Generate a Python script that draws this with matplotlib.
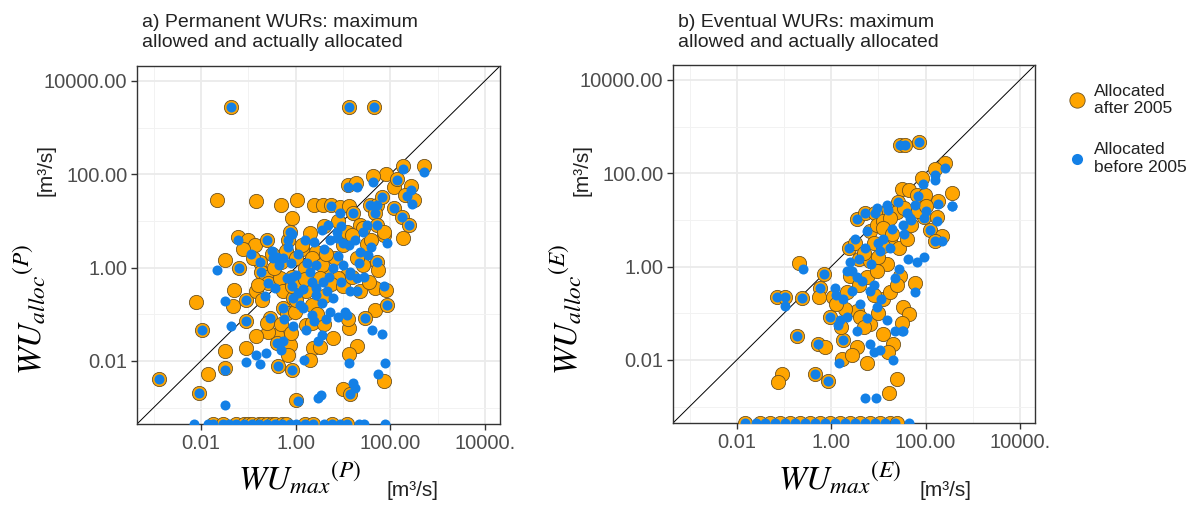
import numpy as np
import matplotlib.pyplot as plt
from matplotlib.lines import Line2D

plt.rcParams['font.family'] = ['Liberation Sans', 'DejaVu Sans']
plt.rcParams['mathtext.fontset'] = 'stix'

# values, stored as log10 of m3/s
# a) permanent WURs
perm_after_x = [-1.36, 1.14, 1.66, 2.26, 2.71, 1.92, 1.63, 1.10, 1.28, 2.08, 2.14, 2.45, 2.32, 2.50,
                -1.66, -0.84, -0.30, 0.04, -0.08, 0.40, 0.57, 0.74, 0.93, 1.13, 1.21, 1.58, 1.72, 1.68,
                1.82, 2.07, 2.25, 2.39, 2.27, 1.86, 1.72, 1.75, 1.68, 1.92, 1.68, 1.93, 1.47, 1.29,
                1.13, 1.13, 1.01, 1.15, 1.87, 1.36, 1.08, 1.43, 1.01, 1.36, 1.43, 1.72, 1.86, 1.08,
                0.83, 0.73, 0.90, 0.44, 0.13, 0.34, 0.55, 0.51, 0.23, 0.34, 0.23, 0.34, 0.37, 0.51,
                0.30, 0.02, -0.08, -0.12, -0.15, -0.37, -0.40, -0.40, -0.58, -0.54, -0.60, -0.83,
                -1.04, -1.04, -1.29, -1.32, -1.04, -1.50, -1.19, -2.10, -1.97, -1.50, -1.50, -1.85,
                -2.04, -2.88, -1.22, -1.00, -0.86, -0.60, -0.15, -0.12, 0.13, -0.76, -0.72, -0.62,
                -0.58, -0.83, -0.79, -0.30, -0.33, -0.26, -0.26, -0.19, -0.05, -0.01, -0.08, -0.07,
                -0.50, -0.45, -0.20, 0.00, 0.20, 0.10, 0.60, 0.75, 1.00, 1.20, 1.30, 1.50, 1.60, 0.90,
                0.60, 0.30, -0.30, -0.10, 0.60, 0.80, 1.10, 0.45, -0.70, -0.90, -1.10, 0.00, 0.20,
                1.55, 1.20, 0.65]
perm_after_y = [3.44, 3.44, 3.44, 2.18, 2.18, 2.01, 1.96, 1.78, 1.82, 1.73, 1.90, 1.74, 1.55, 1.44,
                1.44, 1.43, 1.34, 1.44, 1.07, 1.34, 1.35, 1.34, 1.30, 1.32, 1.16, 1.34, 1.34, 1.16,
                1.52, 1.27, 1.09, 0.91, 0.63, 0.70, 0.13, -0.05, -0.44, -0.48, -0.90, -0.80, -1.08,
                -1.67, -1.86, -1.30, -2.60, -2.70, -2.43, -0.51, -0.16, 0.06, 0.48, 0.91, 0.84, 0.91,
                0.77, 0.77, 0.20, -0.16, -0.23, 0.34, 0.41, 0.20, 0.06, -0.23, -0.51, -0.80, -1.22,
                -1.18, -1.72, -1.69, -1.97, -2.83, -2.19, -1.66, -1.87, -2.11, -1.44, -1.62, -1.37,
                -1.08, -1.19, -1.47, -1.72, -1.15, -0.48, -0.83, -0.69, 0.16, -0.01, -0.73, -1.33,
                -1.79, -2.15, -2.28, -2.68, -2.38, 0.66, 0.59, 0.48, 0.59, 0.59, 0.77, 0.48, 0.13,
                -0.09, -0.19, -0.33, -0.51, -0.37, 0.13, -0.23, -0.51, -0.87, -0.98, -0.65, -0.94,
                -0.40, -0.19,
                0.30, 0.00, 0.35, 0.20, 0.00, -0.30, -0.60, -0.35, -0.40, -0.20, 0.20, 0.50, 0.60, 1.00,
                0.90, 0.75, -1.20, -1.40, -1.20, -1.50, -1.10, -1.00, -0.70, 0.20, 0.40, -0.70, -0.25,
                -0.30, 0.70, 0.30]
perm_before_x = [-1.36, 1.14, 1.66, 2.27, 2.71, 1.63, 1.10, 1.29, 2.14, 2.45, 2.35, 2.47, 0.74, 0.94,
                 1.21, 1.58, 1.72, 1.68, 1.82, 2.07, 2.25, 2.39, 1.93, 1.72, 1.86, 1.93, 1.47, 1.13,
                 1.15, 1.72, 0.06, -0.08, -0.37, -0.40, -0.54, -1.04, -1.04, -1.19, -1.97, -1.49,
                 -2.04, -2.88, -1.22, -0.60, -0.15, -0.12, -0.76, -0.72, -0.58, -0.26, -0.05, -0.08,
                 -0.07,
                 -1.66, -1.49, -1.36, -1.04, -0.84, -0.76, -0.63, -1.49, 0.18, 0.48, 0.53, 1.22, 1.26,
                 1.61, 1.82, 1.89, 1.75, 0.55, 0.48, 0.23, -0.26, -0.30, 0.16, 0.34, 0.73, 0.90, 1.08,
                 0.44, 0.66, 0.80, 0.30, 0.44, 0.80, 1.01, 1.15, 1.29, 0.73, 0.87, 1.01, 1.12, 0.69,
                 0.87, 1.36, 1.54, 1.43, 1.50, -0.07, -0.47, -0.40, -0.26, -0.44, -0.19, 0.02, 0.09,
                 0.59, 0.44, 1.29, 1.15,
                 -0.50, -0.35, -0.15, 0.05, 0.25, 0.15, 0.55, 0.70, 0.95, 1.15, 1.35, 1.60, 0.95, 0.55,
                 0.20, -0.25, -0.05, 0.65, 1.05, 0.40, -0.65, -0.95, 0.05, 0.35, 1.45, 1.25, 0.60,
                 0.90, -0.10, 0.40]
perm_before_y = [3.44, 3.44, 3.44, 2.11, 2.05, 1.83, 1.73, 1.73, 1.87, 1.66, 1.54, 1.37, 1.33, 1.16,
                 1.16, 1.34, 1.34, 1.16, 1.52, 1.27, 1.09, 0.91, 0.52, 0.13, -0.40, -0.80, -1.08,
                 -2.04, -2.70, 0.91, -2.85, -2.19, -2.11, -1.62, -1.08, -1.15, -0.69, -0.01, -1.33,
                 -2.20, -2.68, -2.38, 0.59, 0.59, 0.59, 0.77, 0.13, -0.09, -0.33, -0.87, -0.65, -0.40,
                 -0.19,
                 -0.05, -0.71, -1.26, -2.02, -1.88, -2.06, -1.83, -2.95, -1.97, -2.79, -2.72, -2.47,
                 -2.58, -1.33, -1.42, -2.04, -2.28, -1.44, -1.58, -1.33, -1.58, -1.76, -0.87, -1.01,
                 -0.94, -1.05, -1.01, -0.44, -0.51, -0.65, -0.09, 0.06, -0.01, 0.06, -0.09, -0.23,
                 0.59, 0.63, 0.52, 0.48, 0.91, 0.77, 0.34, 0.27, 0.77, 0.91, 0.73, 0.20, 0.23, 0.20,
                 -0.44, -0.23, -0.16, -0.80, -0.30, -0.58, -0.51, -0.51,
                 0.35, 0.05, 0.45, 0.30, 0.10, -0.45, -0.75, -0.20, -0.30, -0.15, 0.10, 0.45, 0.90,
                 0.80, 0.60, -1.10, -1.25, -1.10, -0.95, -1.15, -0.60, 0.30, -0.55, -0.30, -0.20,
                 0.60, 0.40, 0.25, 0.10, 0.55]
# rights with nothing allocated (value 0), shown on the bottom edge
perm_after_zero_x = [-1.74, -1.53, -1.25, -1.08, -1.00, -0.92, -0.77, -0.70, -0.60, -0.50, -0.43,
                     -0.28, -0.20, 0.20, 0.37, 0.78, 1.09]
perm_before_zero_x = [-2.14, -1.85, -1.74, -1.53, -1.40, -1.25, -1.08, -0.92, -0.77, -0.60, -0.43,
                      -0.28, -0.11, 0.01, 0.20, 0.37, 0.61, 0.78, 0.94, 1.09, 1.35, 1.45, 1.88]

# b) eventual WURs
evt_after_x = [1.45, 1.57, 1.87, 2.42, 2.20, 1.93, 2.56, 2.27, 1.50, 1.66, 1.81, 1.99, 1.41, 1.21,
               1.39, 1.96, 2.25, 2.10, 2.34, 2.20, 0.54, 0.71, 0.93, 0.83, 0.97, 1.11, 1.25, 1.11,
               0.37, 0.60, 0.90, 1.25, 1.43, 0.83, 1.18, -0.67, -0.16, -0.23, -0.25, 0.05, 0.33,
               -1.15, -0.97, -0.62, -0.73, -0.27, -0.13, 0.26, 0.54, 0.76, 0.23, 0.44, -1.05, -1.12,
               -0.34, -0.06, 1.11, 1.32, 1.21, 1.39, 1.23, 1.53, 1.64, 1.78, 1.46, 1.11, 1.25, 0.54,
               0.61, -0.02, 0.83, 0.76, 0.97,
               0.50, 0.70, 1.00, 1.30, 1.60, 1.70, 1.85, 0.40, 0.60, 0.90, 1.00, 0.70, 0.30, 0.10,
               1.40, 1.50, 0.20, 1.10, 1.55, 2.00]
evt_after_y = [2.61, 2.61, 2.67, 2.23, 2.10, 1.89, 1.57, 1.41, 1.66, 1.64, 1.54, 1.54, 1.38, 1.22,
               1.17, 1.07, 1.07, 0.79, 0.65, 0.55, 1.01, 1.15, 1.15, 0.76, 0.90, 0.97, 1.04, 0.83,
               0.39, 0.17, 0.51, 0.58, 0.40, 0.12, 0.05, 0.08, -0.16, -0.45, -0.66, -0.66, -0.55,
               -0.66, -0.65, -0.67, -1.49, -1.65, -1.73, -1.58, -1.72, -2.07, -1.97, -1.90, -2.29,
               -2.48, -2.29, -2.44, -1.44, -1.65, -1.82, -2.41, -2.71, -0.87, -1.01, -0.36, -0.20,
               -0.69, -0.55, -0.94, -1.08, -1.08, -1.22, -0.23, -0.09,
               0.50, 0.30, 0.20, 0.70, 0.60, 0.90, 1.20, -0.20, -0.40, -0.60, -1.00, -1.30, -0.90,
               -0.80, -0.40, -1.20, -1.30, 0.45, 1.25, 1.30]
evt_before_x = [1.45, 1.57, 1.87, 2.42, 2.20, 1.95, 2.56, 2.27, 1.85, 1.41, 1.21, 1.96, 2.25, 2.10,
                2.34, 2.20, 0.54, 0.71, 0.93, 0.37, 0.60, -0.60, -0.16, -0.23, 0.08, -1.15, -0.97,
                -0.62, -0.73, -0.27, 0.26, -0.34, -0.06, -0.02,
                0.72, 0.95, 0.16, 0.83, 0.90, 1.04, 1.31, 1.51, 1.78, 1.81, 1.96, 1.62, 1.43, -0.97,
                0.33, 0.54, 0.44, 0.83, 0.97, 1.18, 1.36, 1.53, 0.61, 0.54, 0.19, 0.33, 1.04, 1.25,
                1.53, 1.67, 1.78, 0.97, 1.18, 0.76, 2.56, 2.20,
                0.50, 0.72, 1.00, 1.30, 1.55, 1.70, 0.45, 0.65, 0.90, 1.05, 0.75, 0.25, 0.10, 1.35,
                0.15, 1.10, 1.60, 2.00, 0.85, 0.40]
evt_before_y = [2.61, 2.61, 2.67, 2.12, 1.96, 1.76, 1.29, 1.35, 1.52, 1.38, 1.22, 1.04, 0.97, 0.79,
                0.54, 0.55, 1.01, 1.15, 1.15, 0.39, 0.17, -0.06, -0.16, -0.45, -0.45, -0.66, -0.65,
                -0.67, -1.49, -1.65, -1.58, -2.29, -2.44, -1.08,
                -2.82, -2.82, -2.06, -1.66, -1.83, -1.79, -1.99, -1.37, -0.55, 0.11, 0.21, 0.16,
                -0.04, -0.84, -0.09, -0.23, -0.52, -0.52, -0.87, -1.15, -1.37, -1.37, -0.80, -1.37,
                -1.15, -1.08, 0.33, 0.40, 0.90, 1.04, 1.32, 1.25, 1.32, 0.76, 1.29, 1.85,
                0.60, 0.40, 0.50, 0.80, 0.70, 1.00, -0.10, -0.30, -0.40, -0.70, -1.10, -0.70, -0.60,
                -0.25, -1.25, 0.60, 1.15, 1.20, 0.05, 0.10]
evt_after_zero_x = [-1.82, -1.50, -1.29, -1.08, -0.87, -0.66, -0.44, -0.23, -0.02, 0.19, 0.40, 0.61,
                    0.83, 1.04, 1.25, 1.39]
evt_before_zero_x = [-1.82, -1.60, -1.40, -1.18, -0.97, -0.76, -0.55, -0.34, -0.12, 0.09, 0.30,
                     0.50, 0.72, 0.93, 1.14, 1.35, 1.64]

ticks = [0.01, 1, 100, 10000]
ytick_labels = ['0.01', '1.00', '100.00', '10000.00']
xtick_labels = ['0.01', '1.00', '100.00', '10000.']
minor = [1e-3, 0.1, 10, 1000]
lo, hi = 10 ** -3.35, 10 ** 4.32

orange = '#FFA500'
blue = '#1380E6'
edge = '#6e5220'


def panel(ax, ax_log, ay_log, bx_log, by_log, az_log, bz_log):
    ax.set_xscale('log')
    ax.set_yscale('log')
    ax.set_xlim(lo, hi)
    ax.set_ylim(lo, hi)
    ax.set_axisbelow(True)
    ax.grid(True, which='major', color='#EBEBEB', lw=1.3)
    ax.grid(True, which='minor', color='#F2F2F2', lw=0.7)
    ax.plot([lo, hi], [lo, hi], color='black', lw=0.7, zorder=2)
    ax.scatter(10 ** np.array(ax_log), 10 ** np.array(ay_log), s=105, c=orange,
               edgecolors=edge, linewidths=0.6, zorder=3)
    ax.scatter(10 ** np.array(az_log), np.full(len(az_log), lo), s=105, c=orange,
               edgecolors=edge, linewidths=0.6, zorder=3)
    ax.scatter(10 ** np.array(bx_log), 10 ** np.array(by_log), s=52, c=blue,
               linewidths=0, zorder=4)
    ax.scatter(10 ** np.array(bz_log), np.full(len(bz_log), lo), s=52, c=blue,
               linewidths=0, zorder=4)
    ax.set_xticks(ticks)
    ax.set_xticklabels(xtick_labels)
    ax.set_yticks(ticks)
    ax.set_yticklabels(ytick_labels)
    ax.set_xticks(minor, minor=True)
    ax.set_yticks(minor, minor=True)
    ax.tick_params(which='minor', length=0, labelbottom=False, labelleft=False)
    ax.tick_params(which='major', length=4, width=1, color='#333333',
                   labelsize=14.5, labelcolor='#4d4d4d', pad=3)
    for s in ax.spines.values():
        s.set_color('#333333')
        s.set_linewidth(1)


W, H = 1190, 509
fig = plt.figure(figsize=(W / 100, H / 100), dpi=100)
ax1 = fig.add_axes([137 / W, 1 - 424 / H, 363 / W, 358 / H])
ax2 = fig.add_axes([673 / W, 1 - 423 / H, 362 / W, 358 / H])

panel(ax1, perm_after_x, perm_after_y, perm_before_x, perm_before_y,
      perm_after_zero_x, perm_before_zero_x)
panel(ax2, evt_after_x, evt_after_y, evt_before_x, evt_before_y,
      evt_after_zero_x, evt_before_zero_x)

# titles
fig.text(142 / W, 1 - 14 / H, 'a) Permanent WURs: maximum\nallowed and actually allocated',
         ha='left', va='top', fontsize=14, color='#222222', linespacing=1.2)
fig.text(678 / W, 1 - 14 / H, 'b) Eventual WURs: maximum\nallowed and actually allocated',
         ha='left', va='top', fontsize=14, color='#222222', linespacing=1.2)

# axis labels
for cx, ux, tag in [(300, 412, 'P'), (840, 946, 'E')]:
    fig.text(cx / W, 1 - 478 / H, r'$WU_{max}{}^{(%s)}$' % tag, ha='center', va='center',
             fontsize=24, color='black')
    fig.text(ux / W, 1 - 490 / H, '[m³/s]', ha='center', va='center', fontsize=15,
             color='#222222')
for cx, ux, tag in [(30, 46, 'P'), (566, 582, 'E')]:
    fig.text(cx / W, 1 - 309 / H, r'$WU_{alloc}{}^{(%s)}$' % tag, ha='center', va='center',
             fontsize=24, rotation=90, color='black')
    fig.text(ux / W, 1 - 170 / H, '[m³/s]', ha='center', va='center', fontsize=15,
             rotation=90, color='#222222')

handles = [Line2D([], [], ls='', marker='o', ms=11, mfc=orange, mec=edge, mew=0.6),
           Line2D([], [], ls='', marker='o', ms=8, mfc=blue, mec=blue, mew=0)]
fig.legend(handles, ['Allocated\nafter 2005', 'Allocated\nbefore 2005'], loc='upper left',
           bbox_to_anchor=(1067 / W, 1 - 84 / H), frameon=False, fontsize=12.5,
           borderpad=0, borderaxespad=0, handlelength=1.2, labelspacing=1.5,
           handletextpad=0.35, labelcolor='#222222')

fig.savefig('out.png', dpi=100)
